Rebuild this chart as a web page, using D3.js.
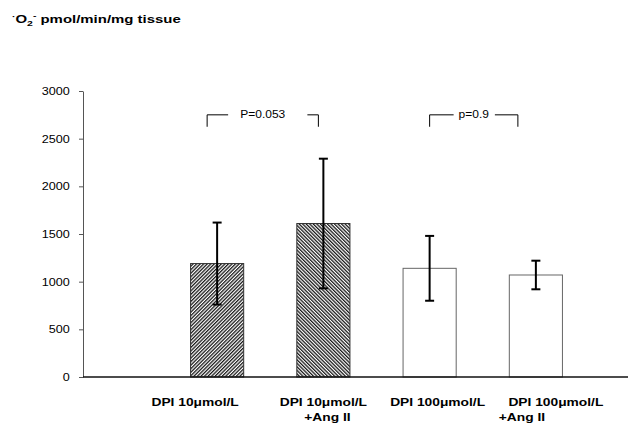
<!DOCTYPE html>
<html>
<head>
<meta charset="utf-8">
<script src="https://cdn.jsdelivr.net/npm/d3@7"></script>
<style>
  body { margin: 0; background: #fff; }
  svg { display: block; }
  text { font-family: "Liberation Sans", Arial, sans-serif; fill: #000; }
</style>
</head>
<body>
<div id="chart"></div>
<script>
// ---- Data ----
const categories = ['DPI 10μmol/L', 'DPI 10μmol/L +Ang II', 'DPI 100μmol/L', 'DPI 100μmol/L +Ang II'];
const labelLines = [['DPI 10μmol/L'], ['DPI 10μmol/L', '+Ang II'], ['DPI 100μmol/L'], ['DPI 100μmol/L', '+Ang II']];
const means = [1190, 1610, 1140, 1070];
const errors = [430, 680, 340, 150];
const fills = ['hatchUp', 'hatchDown', 'open', 'open'];
const yTicks = [0, 500, 1000, 1500, 2000, 2500, 3000];
const comparisons = [
  { a: 0, b: 1, label: 'P=0.053' },
  { a: 2, b: 3, label: 'p=0.9' }
];
const bracketTop = 2750;
const bracketFoot = 2625;

// ---- Layout ----
const W = 628, H = 426;
const axisX = 83;
const stretch = 1.2;              // the figure's lettering is a little wide
const labelDx = [[-22], [0, 4], [8], [20, -14]];
const bracketEnds = [[-10, -5], [0, -18]];
const bracketArms = [[21, 11], [24, 23]];

const svg = d3.select('#chart').append('svg')
  .attr('width', W)
  .attr('height', H);

const defs = svg.append('defs');
[['hatchUp', 45], ['hatchDown', -45]].forEach(([id, ang]) => {
  const p = defs.append('pattern')
    .attr('id', id)
    .attr('patternUnits', 'userSpaceOnUse')
    .attr('width', 2.5)
    .attr('height', 10)
    .attr('patternTransform', `rotate(${ang})`);
  p.append('rect').attr('width', 2.5).attr('height', 10).attr('fill', '#fff');
  p.append('rect').attr('width', 1.3).attr('height', 10).attr('fill', '#1a1a1a');
});

// ---- Scales ----
const y = d3.scaleLinear().domain([0, 3000]).range([377, 91]);
const x = d3.scaleBand()
  .domain(categories)
  .range([164, 589])
  .paddingInner(0.5)
  .paddingOuter(0.25);
const cx = i => x(categories[i]) + x.bandwidth() / 2;

// ---- Y axis ----
const yAxis = svg.append('g')
  .attr('transform', `translate(${axisX},0)`)
  .call(d3.axisLeft(y).tickValues(yTicks).tickFormat(d3.format('d'))
    .tickSize(4).tickPadding(7).tickSizeOuter(0));
yAxis.select('.domain').attr('stroke', '#555');
yAxis.selectAll('.tick line').attr('stroke', '#555');
yAxis.selectAll('.tick text')
  .style('font-size', '10.5px')
  .attr('transform', `scale(${stretch},1)`);

// ---- Bars ----
svg.append('g').selectAll('rect')
  .data(means)
  .enter().append('rect')
  .attr('x', (d, i) => x(categories[i]))
  .attr('y', d => y(d))
  .attr('width', x.bandwidth())
  .attr('height', d => y(0) - y(d))
  .attr('fill', (d, i) => fills[i] === 'open' ? '#fff' : `url(#${fills[i]})`)
  .attr('stroke', (d, i) => fills[i] === 'open' ? '#666' : '#333')
  .attr('stroke-width', 1);

// baseline
svg.append('line')
  .attr('x1', axisX).attr('x2', W)
  .attr('y1', y(0)).attr('y2', y(0))
  .attr('stroke', '#111')
  .attr('stroke-width', 1.3);

// ---- Error bars ----
const eb = svg.append('g').attr('stroke', '#000').attr('stroke-width', 2);
means.forEach((m, i) => {
  const xc = cx(i);
  eb.append('line').attr('x1', xc).attr('x2', xc).attr('y1', y(m + errors[i])).attr('y2', y(m - errors[i]));
  [m + errors[i], m - errors[i]].forEach(v => {
    eb.append('line').attr('x1', xc - 4.5).attr('x2', xc + 4.5).attr('y1', y(v)).attr('y2', y(v));
  });
});

// ---- Significance brackets ----
comparisons.forEach((c, k) => {
  const x1 = cx(c.a) + bracketEnds[k][0];
  const x2 = cx(c.b) + bracketEnds[k][1];
  const g = svg.append('g').attr('stroke', '#000').attr('stroke-width', 1).attr('fill', 'none');
  g.append('path').attr('d', `M${x1},${y(bracketFoot)}V${y(bracketTop)}H${x1 + bracketArms[k][0]}`);
  g.append('path').attr('d', `M${x2},${y(bracketFoot)}V${y(bracketTop)}H${x2 - bracketArms[k][1]}`);
  svg.append('text')
    .attr('transform', `translate(${(x1 + x2) / 2},${y(bracketTop) + 3.5}) scale(${stretch},1)`)
    .attr('text-anchor', 'middle')
    .style('font-size', '10px')
    .text(c.label);
});

// ---- Category labels ----
labelLines.forEach((lines, i) => {
  lines.forEach((t, j) => {
    svg.append('text')
      .attr('transform', `translate(${cx(i) + labelDx[i][j]},${406 + j * 15}) scale(${stretch},1)`)
      .attr('text-anchor', 'middle')
      .style('font-size', '11.5px')
      .style('font-weight', 'bold')
      .text(t);
  });
});

// ---- Unit title ----
const title = svg.append('text')
  .attr('transform', 'translate(12,23) scale(1.3,1)')
  .style('font-size', '11.5px')
  .style('font-weight', 'bold');
title.append('tspan').text('·').style('font-size', '8px').attr('dy', -4);
title.append('tspan').text('O').attr('dy', 4);
title.append('tspan').text('2').style('font-size', '8px').attr('dy', 3);
title.append('tspan').text('-').style('font-size', '8px').attr('dy', -8);
title.append('tspan').text(' pmol/min/mg tissue').attr('dy', 5);
</script>
</body>
</html>
